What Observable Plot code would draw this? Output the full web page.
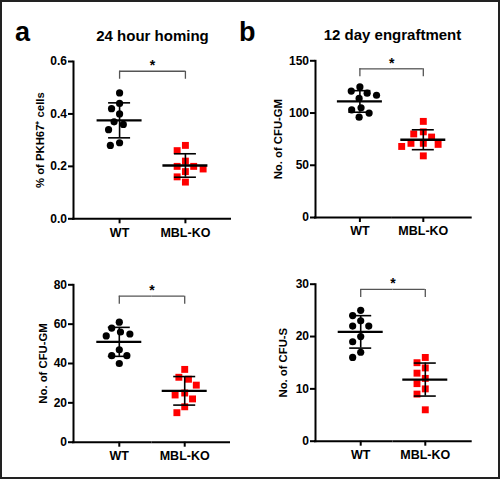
<!DOCTYPE html>
<html>
<head>
<meta charset="utf-8">
<script src="https://cdn.jsdelivr.net/npm/d3@7"></script>
<script src="https://cdn.jsdelivr.net/npm/@observablehq/plot@0.6"></script>
<style>
  body { margin: 0; background: #fff; }
  #wrap { position: relative; width: 500px; height: 480px; overflow: hidden;
          font-family: "Liberation Sans", Arial, sans-serif; color: #000; background: #fff; }
  .t { position: absolute; font-weight: bold; line-height: 1; white-space: nowrap; }
  .ttl { text-align: center; width: 220px; font-size: 15px; }
  #border { position: absolute; left: 0; top: 0; width: 500px; height: 479px; box-sizing: border-box;
            border: 2px solid #222; pointer-events: none; }
</style>
</head>
<body>
<div id="wrap">
  <div class="t" style="left:15px;top:19px;font-size:27px">a</div>
  <div class="t" style="left:239px;top:19px;font-size:27px">b</div>
  <div class="t ttl" style="left:42.5px;top:27.5px">24 hour homing</div>
  <div class="t ttl" style="left:282.5px;top:27px">12 day engraftment</div>
  <div id="border"></div>
</div>
<script>
// ---- data ----
const groups = ["WT", "MBL-KO"];

const homingWT = [0.48, 0.44, 0.42, 0.40, 0.37, 0.36, 0.34, 0.29, 0.28];
const homingKO = [0.28, 0.26, 0.22, 0.20, 0.20, 0.19, 0.18, 0.16, 0.14];

const engraftWT = [125, 121, 119, 117, 114, 105, 103, 100, 96];
const engraftKO = [92, 82, 80, 77, 71, 71, 70, 68, 59];

const cfuGmWT = [61, 58, 56, 55, 54, 47, 44, 44, 40];
const cfuGmKO = [37, 33, 32, 29, 25, 24, 22, 18, 15];

const cfuSWT = [25, 24, 23, 22, 22, 20, 19, 17, 16];
const cfuSKO = [16, 15, 14, 13, 12, 11, 10, 9, 6];

const ticksHoming = [0, 0.2, 0.4, 0.6];
const ticksEngraft = [0, 50, 100, 150];
const ticksCfuGm = [0, 20, 40, 60, 80];
const ticksCfuS = [0, 10, 20, 30];

const labelHoming = "% of PKH67⁺ cells";
const labelCfuGm = "No. of CFU-GM";
const labelCfuS = "No. of CFU-S";
const sigText = "*";

function panel(o) {
  const rows = [
    ...o.wt.map(v => ({group: groups[0], value: v})),
    ...o.ko.map(v => ({group: groups[1], value: v}))
  ];
  const summary = groups.map(g => {
    const v = rows.filter(d => d.group === g).map(d => d.value);
    return {group: g, mean: d3.mean(v), sd: d3.deviation(v)};
  });
  const padOuter = 0.2;
  const W = o.width - o.ml - o.mr;
  const bw = W / (groups.length + 2 * padOuter);
  const outer = padOuter * bw;
  const yMax = o.ticks[o.ticks.length - 1];
  const innerH = o.height - o.mt - o.mb;
  const drop = 8 * yMax / innerH;
  const bk = o.bracket * yMax;
  const extra = o.extraRight || 0;

  const svg = Plot.plot({
    width: o.width, height: o.height,
    marginLeft: o.ml, marginRight: o.mr, marginTop: o.mt, marginBottom: o.mb,
    style: {fontFamily: "Liberation Sans, Arial, sans-serif", color: "black", background: "transparent", overflow: "visible"},
    fx: {domain: groups, paddingInner: 0, paddingOuter: padOuter, round: false, label: null},
    y: {domain: [0, yMax]},
    marks: [
      Plot.dot(rows.filter(d => d.group === groups[0]),
        Plot.dodgeX({anchor: "middle", padding: 2.4}, {fx: "group", y: "value", r: 3.6, fill: "black", symbol: "circle"})),
      Plot.dot(rows.filter(d => d.group === groups[1]),
        Plot.dodgeX({anchor: "middle", padding: 2.0}, {fx: "group", y: "value", r: 3.9, fill: "#f00", symbol: "square"})),
      // mean
      Plot.tickY(summary, {fx: "group", y: "mean", stroke: "black", strokeWidth: 2.3,
        insetLeft: (bw - 45) / 2, insetRight: (bw - 45) / 2}),
      // SD
      Plot.ruleX(summary, {fx: "group", x: null, y1: d => d.mean - d.sd, y2: d => d.mean + d.sd, stroke: "black", strokeWidth: 1.6}),
      Plot.tickY(summary, {fx: "group", y: d => d.mean + d.sd, stroke: "black", strokeWidth: 1.6,
        insetLeft: (bw - 22) / 2, insetRight: (bw - 22) / 2}),
      Plot.tickY(summary, {fx: "group", y: d => d.mean - d.sd, stroke: "black", strokeWidth: 1.6,
        insetLeft: (bw - 22) / 2, insetRight: (bw - 22) / 2}),
      // significance bracket
      Plot.ruleY([bk], {facetAnchor: "left", insetLeft: bw / 2, stroke: "#555", strokeWidth: 1.3}),
      Plot.ruleY([bk], {facetAnchor: "right", insetRight: bw / 2, stroke: "#555", strokeWidth: 1.3}),
      Plot.ruleX([bk], {x: null, y1: d => d, y2: d => d - drop, stroke: "#555", strokeWidth: 1.3}),
      Plot.text([bk], {facetAnchor: "left", frameAnchor: "right", textAnchor: "middle", y: d => d, text: () => sigText,
        dy: -5.5, fontSize: 14, fontWeight: "bold", fill: "black"}),
      // axes
      Plot.ruleY([0], {facetAnchor: "left", insetLeft: -outer - 1, stroke: "black", strokeWidth: 2}),
      Plot.ruleY([0], {facetAnchor: "right", insetRight: -outer - extra, stroke: "black", strokeWidth: 2}),
      Plot.frame({anchor: "left", facetAnchor: "left", insetLeft: -outer, stroke: "black", strokeWidth: 2}),
      Plot.axisY({ticks: o.ticks, tickFormat: o.fmt, tickSize: 5, tickPadding: 1.5, strokeWidth: 2,
        fontSize: 12, fontWeight: "bold", label: null, dx: -outer, fill: "black"}),
      Plot.axisFx({anchor: "bottom", tickSize: 5, tickPadding: 4, strokeWidth: 2, fontSize: 12.5,
        fontWeight: "bold", label: null, fill: "black"}),
      Plot.text([o.label], {facetAnchor: "left", frameAnchor: "left", rotate: -90, textAnchor: "middle",
        dx: -(outer + o.labelDist), fontSize: 11.3, fontWeight: "bold", fill: "black"})
    ]
  });
  svg.style.position = "absolute";
  svg.style.left = o.left + "px";
  svg.style.top = o.top + "px";
  document.getElementById("wrap").insertBefore(svg, document.getElementById("border"));
}

panel({wt: homingWT, ko: homingKO, ticks: ticksHoming, fmt: d3.format(".1f"), label: labelHoming,
  bracket: 0.938, left: 0, top: 0, width: 250, height: 250, ml: 73, mr: 19, mt: 61, mb: 31.7, labelDist: 33});
panel({wt: engraftWT, ko: engraftKO, ticks: ticksEngraft, fmt: d3.format("d"), label: labelCfuGm,
  bracket: 0.949, left: 250, top: 0, width: 250, height: 250, ml: 65, mr: 32.8, mt: 60.3, mb: 33, labelDist: 37, extraRight: 4.5});
panel({wt: cfuGmWT, ko: cfuGmKO, ticks: ticksCfuGm, fmt: d3.format("d"), label: labelCfuGm,
  bracket: 0.928, left: 0, top: 240, width: 250, height: 240, ml: 73, mr: 20, mt: 44.3, mb: 38.3, labelDist: 30.5});
panel({wt: cfuSWT, ko: cfuSKO, ticks: ticksCfuS, fmt: d3.format("d"), label: labelCfuS,
  bracket: 0.967, left: 250, top: 240, width: 250, height: 240, ml: 65, mr: 30, mt: 43.7, mb: 39.3, labelDist: 31.7, extraRight: 1.7});
</script>
</body>
</html>
